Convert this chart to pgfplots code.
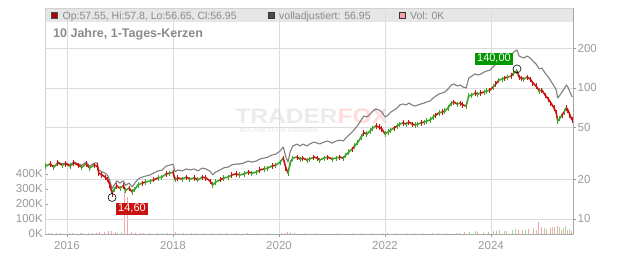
\documentclass[border=0pt]{standalone}
\usepackage{pgfplots}
\usepackage{pgfplotstable}
\pgfplotsset{compat=1.18}
\usepackage{fontspec}
\setmainfont{Liberation Sans}
\definecolor{cRed}{HTML}{CC1111}
\definecolor{cGreen}{HTML}{3FA52A}
\definecolor{cGrid}{HTML}{DCDCDC}
\definecolor{cTick}{HTML}{9A9A9A}
\definecolor{cHead}{HTML}{E6E6E6}
\definecolor{cHeadT}{HTML}{8A8A8A}
\definecolor{cVolR}{HTML}{F2A3AC}
\definecolor{cVolG}{HTML}{A9DB9C}
\definecolor{cAdj}{HTML}{7F7F7F}

\pgfplotstableread{
t c a m
2015.60 25.4 25.4 1
2015.68 26.3 26.3 0
2015.75 24.9 24.9 1
2015.83 26.8 27.3 0
2015.91 25.8 26.3 1
2015.98 26.3 26.8 0
2016.06 25.4 25.9 1
2016.13 26.8 27.3 0
2016.21 25.8 26.3 0
2016.28 24.9 25.8 1
2016.36 26.3 27.2 0
2016.43 24.5 25.4 1
2016.51 25.8 26.7 0
2016.57 25.4 26.8 0
2016.60 22.4 23.6 0
2016.66 21.7 22.9 0
2016.72 20.9 22.4 0
2016.77 19.9 21.4 0
2016.81 18.2 19.5 0
2016.85 15.8 17.0 1
2016.89 16.9 18.1 1
2016.94 17.9 19.5 0
2017.00 17.2 18.8 1
2017.06 17.9 19.5 0
2017.11 16.6 18.1 1
2017.17 17.2 18.8 0
2017.23 16.1 17.6 1
2017.28 16.9 18.8 1
2017.34 18.2 20.2 1
2017.42 18.8 20.9 0
2017.49 19.2 21.3 1
2017.57 19.5 21.7 1
2017.64 19.9 22.5 0
2017.72 20.6 23.3 1
2017.79 20.9 23.6 1
2017.87 22.1 25.4 0
2017.94 22.4 25.8 1
2018.00 22.8 26.2 0
2018.04 19.9 22.9 1
2018.09 20.6 23.7 0
2018.17 20.2 23.3 1
2018.25 20.9 24.1 0
2018.32 20.2 23.7 1
2018.40 20.6 24.1 0
2018.47 19.9 23.3 1
2018.55 20.9 24.5 0
2018.62 20.6 24.1 0
2018.70 19.5 23.2 0
2018.75 18.2 21.7 1
2018.81 19.2 22.9 1
2018.89 19.9 23.7 0
2018.96 20.6 24.6 1
2019.04 20.9 24.9 1
2019.11 21.7 25.9 0
2019.19 22.1 26.3 0
2019.26 21.7 26.3 1
2019.34 22.1 26.8 1
2019.42 22.8 27.7 0
2019.49 22.4 27.2 1
2019.57 22.8 27.7 1
2019.64 23.7 28.7 0
2019.72 24.1 29.2 1
2019.79 24.5 29.7 1
2019.87 25.4 30.8 0
2019.94 25.8 31.3 1
2020.02 27.2 33.0 1
2020.08 29.2 35.4 0
2020.13 24.5 29.7 0
2020.17 22.4 27.2 1
2020.21 26.8 32.5 1
2020.26 29.2 36.1 1
2020.34 29.7 37.3 0
2020.40 28.7 36.1 1
2020.45 29.2 37.3 0
2020.53 28.2 36.1 1
2020.58 28.7 37.4 1
2020.66 29.7 38.7 0
2020.72 29.2 38.0 0
2020.77 28.2 37.4 1
2020.85 29.2 38.7 1
2020.92 29.7 39.4 0
2021.00 28.7 38.0 1
2021.08 29.2 39.4 1
2021.15 29.7 40.0 0
2021.21 29.2 39.4 1
2021.26 30.8 41.5 1
2021.32 32.5 43.8 1
2021.38 34.2 46.1 0
2021.43 36.1 48.7 1
2021.49 38.7 52.2 1
2021.55 42.3 57.0 1
2021.60 45.4 61.2 0
2021.66 44.6 60.1 1
2021.72 47.0 63.4 1
2021.77 49.5 66.7 1
2021.83 51.3 69.2 0
2021.89 50.4 67.9 0
2021.94 48.7 65.6 0
2022.00 44.6 60.1 1
2022.06 46.2 62.3 1
2022.11 47.8 65.6 1
2022.17 49.5 67.9 0
2022.23 51.3 70.4 1
2022.28 53.1 74.2 1
2022.34 54.1 75.6 0
2022.40 53.1 74.2 1
2022.45 55.0 76.8 0
2022.51 53.1 74.2 0
2022.57 52.2 72.9 1
2022.62 53.1 74.2 1
2022.68 54.1 75.6 0
2022.74 55.0 76.8 1
2022.79 56.0 78.2 1
2022.85 57.0 79.6 1
2022.91 60.1 84.0 1
2022.96 62.2 86.9 0
2023.02 64.5 90.1 1
2023.08 65.6 91.6 0
2023.13 66.8 93.3 1
2023.19 70.4 98.3 1
2023.25 76.8 105.4 1
2023.30 78.2 107.3 0
2023.36 75.5 103.6 1
2023.42 76.8 105.4 0
2023.47 74.2 101.8 0
2023.53 72.9 100.0 1
2023.58 86.9 119.2 1
2023.64 88.4 123.5 1
2023.70 91.6 128.0 0
2023.75 90.0 125.7 1
2023.81 91.6 128.0 0
2023.87 93.2 132.4 1
2023.92 94.9 134.9 1
2023.98 96.5 137.1 0
2024.04 101.8 144.7 1
2024.09 107.3 152.5 0
2024.15 115.1 163.6 1
2024.21 117.1 166.4 1
2024.26 119.2 172.5 0
2024.32 121.3 175.5 1
2024.38 123.5 178.7 0
2024.43 130.2 188.4 1
2024.49 134.8 195.1 0
2024.53 121.3 175.5 0
2024.57 119.2 172.5 0
2024.62 117.1 169.4 1
2024.68 121.3 175.5 0
2024.74 117.1 169.4 0
2024.79 109.2 160.7 0
2024.85 103.6 152.5 0
2024.91 94.9 139.7 1
2024.96 96.5 142.0 0
2025.02 88.4 130.1 0
2025.08 82.4 121.3 0
2025.13 76.8 113.0 0
2025.19 70.4 103.6 0
2025.23 64.5 96.6 0
2025.26 56.0 83.9 1
2025.30 59.0 88.4 1
2025.34 62.2 93.2 0
2025.38 65.6 98.3 1
2025.42 70.4 105.5 0
2025.45 67.9 101.7 0
2025.49 62.2 93.2 0
2025.53 57.0 85.4 0
}\pricedata

\pgfplotstableread{
t v
2015.65 4
2015.80 6
2015.95 3
2016.10 5
2016.25 8
2016.40 6
2016.55 10
2016.62 14
2016.70 12
2016.78 18
2016.84 20
2016.92 12
2017.08 350
2017.15 250
2017.22 15
2017.30 8
2017.45 10
2017.70 6
2017.90 5
2018.05 14
2018.20 6
2018.45 5
2018.72 8
2019.00 4
2019.40 5
2019.80 4
2020.13 10
2020.16 12
2020.50 4
2020.90 3
2021.40 5
2021.95 8
2022.05 10
2022.40 6
2022.70 5
2023.00 7
2023.35 10
2023.50 12
2023.75 15
2023.95 14
2024.10 20
2024.30 22
2024.52 30
2024.60 25
2024.70 35
2024.80 40
2024.89 80
2024.95 45
2025.05 35
2025.12 40
2025.20 50
2025.26 55
2025.33 30
2025.45 25
2025.52 20
}\volred

\pgfplotstableread{
t v
2015.70 5
2015.88 4
2016.05 6
2016.30 4
2016.48 7
2016.95 10
2017.02 12
2017.38 9
2017.55 8
2017.80 6
2018.10 5
2018.35 4
2018.60 6
2018.90 5
2019.20 4
2019.60 5
2020.05 8
2020.22 14
2020.30 10
2020.70 6
2021.10 4
2021.55 8
2021.75 9
2022.20 7
2022.55 6
2022.90 8
2023.15 10
2023.40 9
2023.60 15
2023.70 18
2023.85 16
2024.05 22
2024.15 25
2024.25 20
2024.40 28
2024.46 35
2024.65 30
2024.85 25
2025.00 38
2025.15 45
2025.30 50
2025.36 40
2025.40 55
2025.48 35
}\volgreen

\begin{document}
\begin{tikzpicture}[x=1bp,y=1bp]
\path[use as bounding box] (0,0) rectangle (632,253);

% volume axis (left), also carries header band and watermark
\begin{axis}[at={(45bp,19bp)}, anchor=south west, scale only axis,
  width=528bp, height=226bp,
  xmin=2015.585, xmax=2025.547, ymin=0, ymax=1506.67,
  hide x axis, axis y line*=left,
  y axis line style={-, draw=gray!45, line width=0.8bp},
  ytick={0,100,200,300,400}, yticklabels={0K,100K,200K,300K,400K},
  tick align=inside, major tick length=3bp,
  ytick style={draw=cTick, line width=0.6bp},
  yticklabel style={font=\fontsize{11.5bp}{13bp}\selectfont, text=cTick, inner xsep=2bp},
  /pgf/number format/assume math mode=true,
  clip mode=individual]
\fill[cHead] (rel axis cs:0,0.938) rectangle (rel axis cs:1,1);
\draw[gray!35, line width=0.8bp] (rel axis cs:0,0) rectangle (rel axis cs:1,1);
\node[anchor=base west, inner sep=0, xscale=1.17, font=\bfseries\fontsize{21bp}{21bp}\selectfont, text=gray!16]
  at (rel axis cs:0.36,0.491) {TRADER\textcolor{red!14}{FOX}};
\node[anchor=base west, inner sep=0, font=\bfseries\fontsize{5.3bp}{6bp}\selectfont, text=gray!16]
  at (rel axis cs:0.368,0.448) {REALTIME STOCK SCREENING};
\addplot[ycomb, draw=cVolR, line width=0.9bp, mark=none] table[x=t,y=v] {\volred};
\addplot[ycomb, draw=cVolG, line width=0.9bp, mark=none] table[x=t,y=v] {\volgreen};
\end{axis}

% price axis (right, log)
\begin{axis}[at={(45bp,19bp)}, anchor=south west, scale only axis,
  width=528bp, height=226bp,
  xmin=2015.585, xmax=2025.547, ymode=log, ymin=7.685, ymax=408.1,
  axis x line*=bottom, axis y line*=right,
  axis line style={-, draw=gray!70, line width=0.9bp},
  xtick={2016,2018,2020,2022,2024}, xticklabels={2016,2018,2020,2022,2024},
  ytick={10,20,50,100,200}, yticklabels={10,20,50,100,200},
  yminorticks=false, xminorticks=false,
  grid=major, grid style={draw=cGrid, line width=0.8bp},
  tick align=outside, major tick length=3.5bp,
  tick style={draw=cTick, line width=0.6bp},
  ticklabel style={font=\fontsize{11.5bp}{13bp}\selectfont, text=cTick},
  yticklabel style={inner xsep=1bp},
  /pgf/number format/assume math mode=true,
  colormap={rg}{color(0)=(cRed) color(1)=(cGreen)},
  point meta min=0, point meta max=1,
  clip mode=individual]
\addplot[draw=cAdj, line width=1.1bp, line join=round] table[x=t,y=a] {\pricedata};
\addplot[mesh, shader=flat corner, point meta=explicit, line width=1.6bp, line join=round, line cap=round]
  table[x=t,y=c,meta=m] {\pricedata};
% candle wicks
\addplot[draw=none, mark=none, forget plot, restrict expr to domain={\thisrow{m}}{0.5:1.5},
  error bars/.cd, y dir=both, y explicit relative, error mark=none,
  error bar style={draw=cGreen, line width=1bp}]
  table[x=t, y=c, y error expr=0.045] {\pricedata};
\addplot[draw=none, mark=none, forget plot, restrict expr to domain={\thisrow{m}}{-0.5:0.5},
  error bars/.cd, y dir=both, y explicit relative, error mark=none,
  error bar style={draw=cRed, line width=1bp}]
  table[x=t, y=c, y error expr=0.045] {\pricedata};
\addplot[draw=cRed, line width=1bp] coordinates {(2016.85,16.5) (2016.85,14.6)};
\addplot[draw=cGreen, line width=1bp] coordinates {(2024.49,128) (2024.49,140)};
\addplot[only marks, mark=o, mark size=4bp, mark options={draw=black, line width=0.6bp}]
  coordinates {(2016.85,14.6)}
  node[pos=1, anchor=north west, xshift=4bp, yshift=-5bp, fill=cRed, text=white, inner xsep=2bp, inner ysep=1.5bp,
       font=\fontsize{11bp}{12bp}\selectfont] {14,60};
\addplot[only marks, mark=o, mark size=4bp, mark options={draw=black, line width=0.6bp}]
  coordinates {(2024.49,140)}
  node[pos=1, anchor=south east, xshift=-4bp, yshift=4bp, fill=green!60!black, text=white, inner xsep=2bp, inner ysep=1.5bp,
       font=\fontsize{11bp}{12bp}\selectfont] {140,00};
\end{axis}

% header legend
\filldraw[fill=red!70!black, draw=black!70, line width=0.5bp] (51,235) rectangle (57,241);
\node[anchor=base west, inner sep=0, font=\fontsize{10.5bp}{12bp}\selectfont, text=cHeadT] at (62.5,234) {Op:57.55, Hi:57.8, Lo:56.65, Cl:56.95};
\filldraw[fill=gray!60!black, draw=black!80, line width=0.5bp] (268,235) rectangle (274,241);
\node[anchor=base west, inner sep=0, font=\fontsize{10.5bp}{12bp}\selectfont, text=cHeadT] at (279,234) {volladjustiert: 56.95};
\filldraw[fill=cVolR, draw=black!80, line width=0.5bp] (399,235) rectangle (405,241);
\node[anchor=base west, inner sep=0, font=\fontsize{10.5bp}{12bp}\selectfont, text=cHeadT] at (410,234) {Vol: 0K};
% title
\node[anchor=base west, inner sep=0, font=\bfseries\fontsize{12.5bp}{14bp}\selectfont, text=cHeadT] at (53,215.5) {10 Jahre, 1-Tages-Kerzen};
\end{tikzpicture}
\end{document}
